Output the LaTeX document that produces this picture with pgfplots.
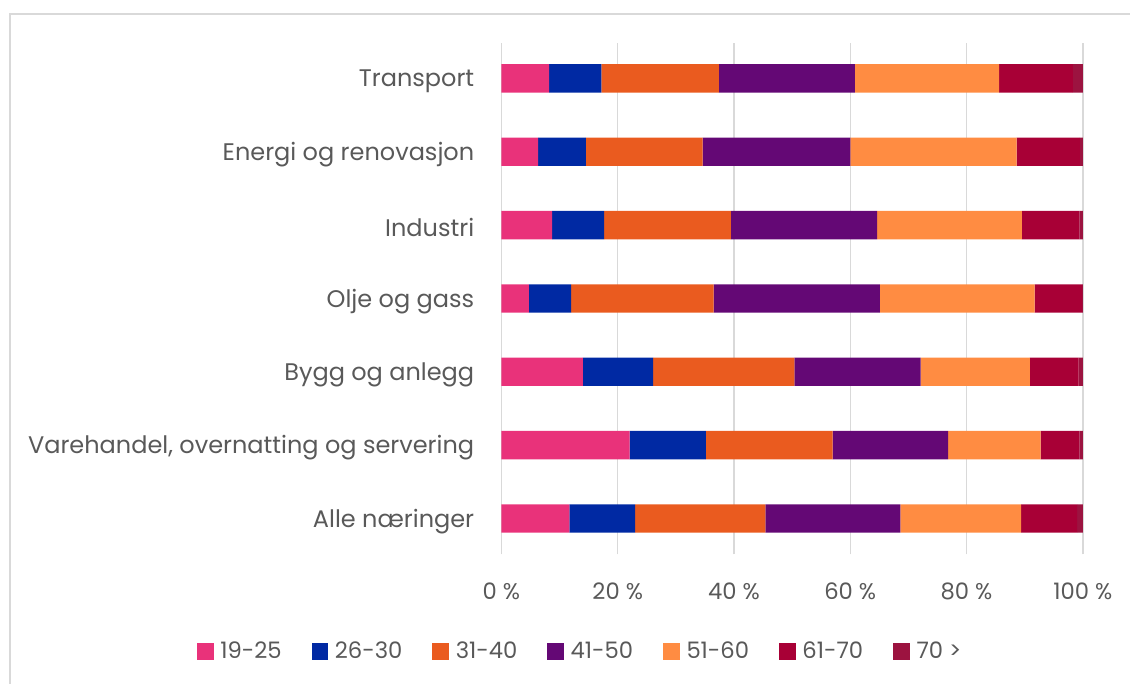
\documentclass[border=0pt]{standalone}
\usepackage{fontspec}
\setmainfont{Poppins}
\usepackage{pgfplots}
\pgfplotsset{compat=1.18}
\definecolor{txt}{HTML}{595959}
\definecolor{gridc}{HTML}{D9D9D9}
\definecolor{c1}{HTML}{E9327A}
\definecolor{c2}{HTML}{0029A3}
\definecolor{c3}{HTML}{EA5B1F}
\definecolor{c4}{HTML}{640875}
\definecolor{c5}{HTML}{FF8C42}
\definecolor{c6}{HTML}{A80036}
\definecolor{c7}{HTML}{9C1340}
\begin{document}
\begin{tikzpicture}
\useasboundingbox (0,0) rectangle (847.5pt,513pt);
\draw[gridc, line width=1.2pt] (7.5pt,0) -- (7.5pt,502.5pt) -- (847.5pt,502.5pt);
\begin{axis}[
  at={(376.1pt,97.3pt)}, anchor=south west,
  scale only axis, width=436pt, height=383.7pt,
  xbar stacked, bar width=21.3pt,
  xmin=0, xmax=100, ymin=-0.488, ymax=6.488,
  xtick={0,20,40,60,80,100},
  xticklabels={0 \%,20 \%,40 \%,60 \%,80 \%,100 \%},
  ytick={0,1,2,3,4,5,6},
  yticklabels={Alle næringer,{Varehandel, overnatting og servering},Bygg og anlegg,Olje og gass,Industri,Energi og renovasjon,Transport},
  xmajorgrids, grid style={gridc, line width=1.1pt},
  axis line style={draw=none}, major tick length=0pt,
  tick label style={font=\fontsize{17}{20}\selectfont, text=txt},
  yticklabel style={anchor=east, inner sep=0pt, xshift=-20.25pt, yshift=-2pt, font=\fontsize{18}{21}\selectfont},
  xticklabel style={anchor=center, inner sep=0pt, yshift=-28pt},
  legend columns=7,
  legend style={at={(0.136,-0.19)}, anchor=center, draw=none, font=\fontsize{17}{20}\selectfont, text=txt,
    /tikz/every even column/.append style={column sep=20.5pt},
    /tikz/every odd column/.append style={column sep=3pt}},
  legend image code/.code={\fill[#1] (0pt,-6.25pt) rectangle (12.5pt,6.25pt);},
]
\addplot[fill=c1, draw=none] coordinates {(11.7,0) (22.05,1) (14.0,2) (4.7,3) (8.7,4) (6.3,5) (8.2,6)};
\addplot[fill=c2, draw=none] coordinates {(11.3,0) (13.1,1) (12.1,2) (7.3,3) (8.95,4) (8.2,5) (9.0,6)};
\addplot[fill=c3, draw=none] coordinates {(22.4,0) (21.8,1) (24.3,2) (24.5,3) (21.8,4) (20.1,5) (20.2,6)};
\addplot[fill=c4, draw=none] coordinates {(23.2,0) (19.9,1) (21.7,2) (28.6,3) (25.15,4) (25.4,5) (23.4,6)};
\addplot[fill=c5, draw=none] coordinates {(20.8,0) (15.9,1) (18.8,2) (26.6,3) (24.9,4) (28.6,5) (24.8,6)};
\addplot[fill=c6, draw=none] coordinates {(9.6,0) (6.65,1) (8.4,2) (8.2,3) (9.9,4) (10.9,5) (12.7,6)};
\addplot[fill=c7, draw=none] coordinates {(1.0,0) (0.6,1) (0.7,2) (0.1,3) (0.6,4) (0.5,5) (1.7,6)};
\legend{19-25,26-30,31-40,41-50,51-60,61-70,70 >}
\end{axis}
\end{tikzpicture}
\end{document}
